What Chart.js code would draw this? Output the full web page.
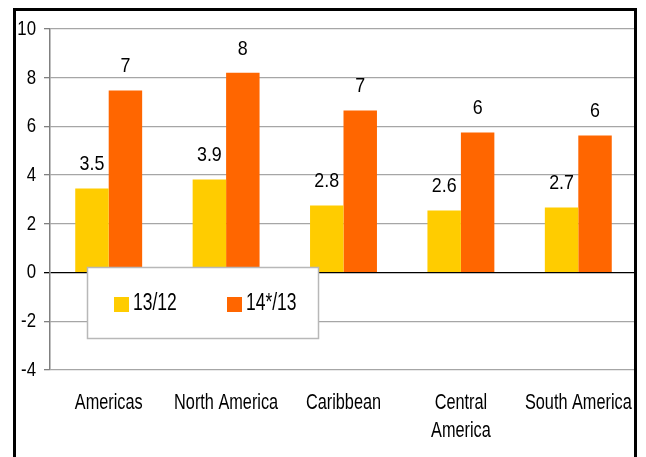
<!DOCTYPE html>
<html>
<head>
<meta charset="utf-8">
<script src="https://cdn.jsdelivr.net/npm/chart.js@4/dist/chart.umd.min.js"></script>
<style>
html,body{margin:0;padding:0;background:#fff;}
#wrap{position:relative;width:646px;height:457px;overflow:hidden;}
#frame{position:absolute;left:13px;top:8px;width:618px;height:470px;border:3px solid #000;pointer-events:none;}
canvas{position:absolute;left:0;top:0;}
</style>
</head>
<body>
<div id="wrap">
<canvas id="c" width="646" height="457"></canvas>
<div id="frame"></div>
</div>
<script>
const categories = ['Americas', 'North America', 'Caribbean', ['Central', 'America'], 'South America'];
const seriesNames = ['13/12', '14*/13'];
const values1312 = [3.45, 3.82, 2.75, 2.55, 2.67];
const values1413 = [7.47, 8.2, 6.65, 5.75, 5.63];
const labels1312 = ['3.5', '3.9', '2.8', '2.6', '2.7'];
const labels1413 = ['7', '8', '7', '6', '6'];
const yTicks = [-4, -2, 0, 2, 4, 6, 8, 10];

const FONT = '"Liberation Sans", Arial, sans-serif';

// draws text horizontally condensed (to imitate a narrow typeface)
function narrowText(ctx, text, x, y, size, squeeze, align) {
  ctx.save();
  ctx.font = size + 'px ' + FONT;
  ctx.fillStyle = '#000';
  ctx.textBaseline = 'middle';
  ctx.textAlign = align;
  ctx.translate(x, y);
  ctx.scale(squeeze, 1);
  ctx.fillText(text, 0, 0);
  ctx.restore();
}

const axisText = {
  id: 'axisText',
  afterDraw(chart) {
    const ctx = chart.ctx;
    const ys = chart.scales.y, xs = chart.scales.x;
    ys.ticks.forEach(t => {
      narrowText(ctx, String(t.value), 36, ys.getPixelForValue(t.value), 21, 0.8, 'right');
    });
    chart.data.labels.forEach((lab, i) => {
      const x = xs.getPixelForTick(i);
      const lines = Array.isArray(lab) ? lab : [lab];
      lines.forEach((ln, k) => {
        narrowText(ctx, ln, x, 403 + k * 28, 22, 0.74, 'center');
      });
    });
  }
};

const valueLabels = {
  id: 'valueLabels',
  afterDatasetsDraw(chart) {
    const ctx = chart.ctx;
    const sets = [labels1312, labels1413];
    chart.data.datasets.forEach((ds, di) => {
      chart.getDatasetMeta(di).data.forEach((bar, i) => {
        narrowText(ctx, sets[di][i], bar.x, bar.y - 24, 21, 0.85, 'center');
      });
    });
  }
};

const boxLegend = {
  id: 'boxLegend',
  afterDraw(chart) {
    const ctx = chart.ctx;
    ctx.save();
    ctx.fillStyle = '#fff';
    ctx.fillRect(87, 267, 232, 72);
    ctx.strokeStyle = '#b8b8b8';
    ctx.lineWidth = 1.5;
    ctx.strokeRect(87.5, 267.5, 231, 71);
    ctx.restore();
    const xs = [114, 227];
    chart.data.datasets.forEach((ds, i) => {
      ctx.fillStyle = ds.backgroundColor;
      ctx.fillRect(xs[i], 297, 15, 15);
      narrowText(ctx, ds.label, xs[i] + 19, 304, 23, 0.76, 'left');
    });
  }
};

new Chart(document.getElementById('c'), {
  type: 'bar',
  data: {
    labels: categories,
    datasets: [
      { label: seriesNames[0], data: values1312, backgroundColor: '#FFCC00', barPercentage: 1, categoryPercentage: 0.57 },
      { label: seriesNames[1], data: values1413, backgroundColor: '#FF6600', barPercentage: 1, categoryPercentage: 0.57 }
    ]
  },
  options: {
    responsive: false,
    animation: false,
    devicePixelRatio: 1,
    layout: { padding: { left: 0, right: 9, top: 29, bottom: 0 } },
    plugins: { legend: { display: false }, tooltip: { enabled: false } },
    scales: {
      x: {
        grid: { display: false, drawTicks: false },
        border: { display: false },
        ticks: { display: false },
        afterFit(s) { s.height = 87; }
      },
      y: {
        min: -4, max: 10,
        afterBuildTicks(s) { s.ticks = yTicks.map(v => ({ value: v })); },
        afterFit(s) { s.width = 50; },
        grid: {
          color: c => c.tick && c.tick.value === 0 ? '#000' : '#a6a6a6',
          tickColor: c => c.tick && c.tick.value === 0 ? '#000' : '#808080',
          tickLength: 6,
          lineWidth: 1.3
        },
        border: { display: true, color: '#808080', width: 1.5 },
        ticks: { display: false }
      }
    }
  },
  plugins: [valueLabels, boxLegend, axisText]
});
</script>
</body>
</html>
